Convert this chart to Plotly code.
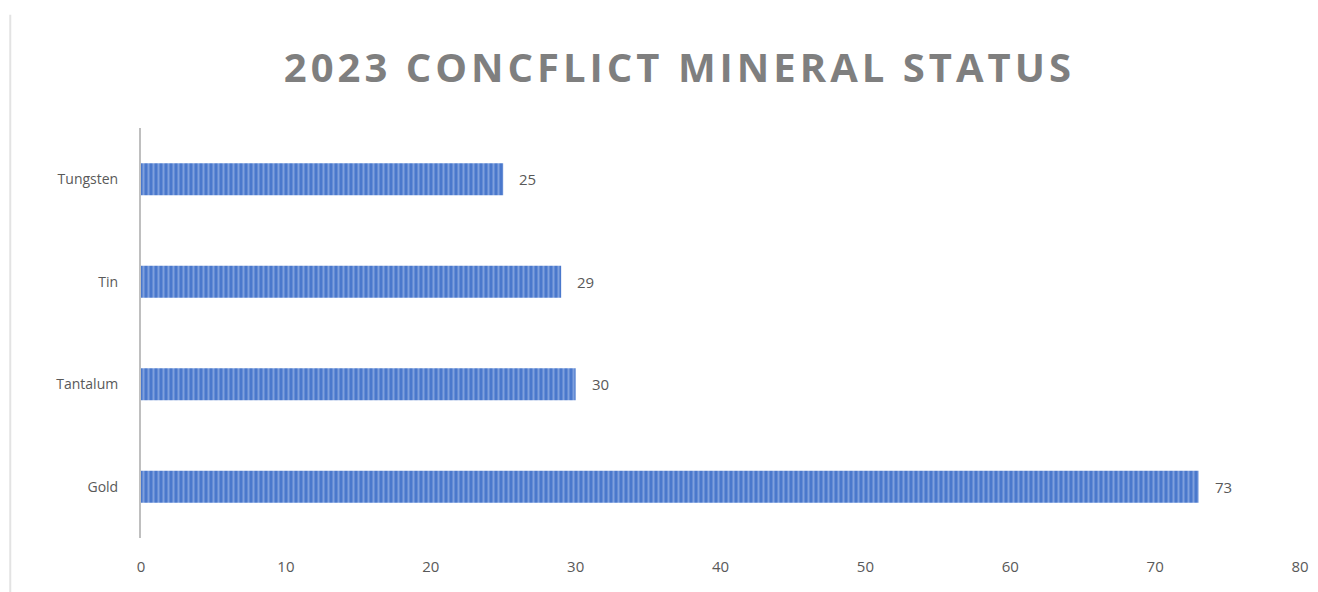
import plotly.graph_objects as go

categories = ["Gold", "Tantalum", "Tin", "Tungsten"]
values = [73, 30, 29, 25]
x_ticks = [0, 10, 20, 30, 40, 50, 60, 70, 80]
title_text = "2023 CONCFLICT MINERAL STATUS"

FONT = "Open Sans, Liberation Sans, sans-serif"
HAIR = "\u200a"

fig = go.Figure()
fig.add_trace(go.Bar(
    y=categories, x=values, orientation="h",
    width=0.31,
    marker=dict(
        color="#4A78CC",
        line=dict(width=0),
        pattern=dict(shape="|", fgcolor="#B3C8EE", size=5, solidity=0.4),
    ),
    hoverinfo="x+y",
))

for c, v in zip(categories, values):
    fig.add_annotation(x=v, y=c, text=str(v), showarrow=False,
                       xanchor="left", yanchor="middle", xshift=14,
                       font=dict(family=FONT, size=15, color="#595959"))

fig.add_shape(type="line", xref="paper", yref="paper",
              x0=-0.1128, x1=-0.1128, y0=-0.132, y1=1.276,
              line=dict(color="#E3E3E3", width=2))

fig.update_layout(
    width=1310, height=584,
    paper_bgcolor="white", plot_bgcolor="white",
    margin=dict(l=133, r=9, t=120, b=54),
    title=dict(text=HAIR.join(title_text), x=0.511, xanchor="center",
               y=0.897, yanchor="middle",
               font=dict(family=FONT, size=40, color="#7F7F7F", weight="bold")),
    showlegend=False,
    bargap=0.69,
)
fig.update_xaxes(range=[0, 80], tickvals=x_ticks, showgrid=False, zeroline=False,
                 showline=False, ticks="", ticklabelstandoff=18,
                 tickfont=dict(family=FONT, size=15, color="#595959"))
fig.update_yaxes(categoryorder="array", categoryarray=categories, showgrid=False,
                 showline=True, linecolor="#BFBFBF", linewidth=2, ticks="",
                 ticklabelstandoff=18,
                 tickfont=dict(family=FONT, size=14, color="#595959"))

fig.write_html("out.html")
